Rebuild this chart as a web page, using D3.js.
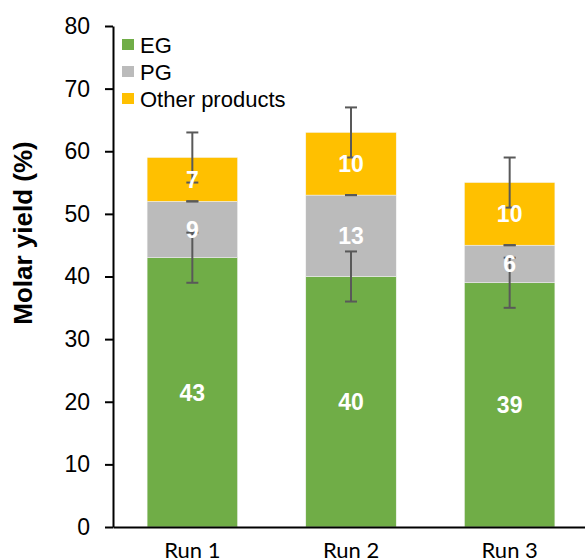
<!DOCTYPE html>
<html>
<head>
<meta charset="utf-8">
<script src="https://cdn.jsdelivr.net/npm/d3@7"></script>
<style>
  body { margin: 0; background: #fff; }
  svg { display: block; }
</style>
</head>
<body>
<div id="chart"></div>
<script>
// data
var runs = ["Run 1", "Run 2", "Run 3"];
var egValues = [43, 40, 39];
var pgValues = [9, 13, 6];
var otherValues = [7, 10, 10];
var egErr = [4, 4, 4];
var pgErr = [0, 0, 0];
var otherErr = [4, 4, 4];
var seriesNames = ["EG", "PG", "Other products"];
var yTicks = [0, 10, 20, 30, 40, 50, 60, 70, 80];

var colors = {"EG": "#70ad47", "PG": "#bbbbbb", "Other products": "#ffc000"};

var W = 585, H = 560;
// note: "top" is taken by window.top, so use plot* names
var plotLeft = 113, plotTop = 26, plotBottom = 527, plotRight = 589;

var svg = d3.select("#chart").append("svg")
    .attr("width", W)
    .attr("height", H);

var x = d3.scaleBand().domain(runs).range([plotLeft, plotRight]).paddingInner(0.43).paddingOuter(0.215);
var y = d3.scaleLinear().domain([0, 80]).range([plotBottom, plotTop]);

// build stacked rows
var rows = runs.map(function(r, i) {
    return {run: r, "EG": egValues[i], "PG": pgValues[i], "Other products": otherValues[i],
            err: {"EG": egErr[i], "PG": pgErr[i], "Other products": otherErr[i]}};
});
var stack = d3.stack().keys(seriesNames)(rows);

// bars
var layers = svg.append("g").selectAll("g")
    .data(stack)
    .join("g")
    .attr("fill", function(d) { return colors[d.key]; });

layers.selectAll("rect")
    .data(function(d) { return d; })
    .join("rect")
    .attr("x", function(d) { return x(d.data.run); })
    .attr("width", x.bandwidth())
    .attr("y", function(d) { return y(d[1]); })
    .attr("height", function(d) { return y(d[0]) - y(d[1]); })
    .attr("stroke", "#f4f4f4")
    .attr("stroke-width", 0.5);

// error bars (centred on the top of each stacked segment)
var capW = 12;
var errG = svg.append("g")
    .attr("stroke", "#595959")
    .attr("stroke-width", 2);

stack.forEach(function(layer) {
    layer.forEach(function(d) {
        var e = d.data.err[layer.key];
        var cx = x(d.data.run) + x.bandwidth() / 2;
        var lo = d[1] - e, hi = d[1] + e;
        if (e > 0) {
            errG.append("line")
                .attr("x1", cx).attr("x2", cx)
                .attr("y1", y(lo)).attr("y2", y(hi));
        }
        [lo, hi].forEach(function(v) {
            errG.append("line")
                .attr("x1", cx - capW / 2).attr("x2", cx + capW / 2)
                .attr("y1", y(v)).attr("y2", y(v));
        });
    });
});

// value labels
stack.forEach(function(layer) {
    svg.append("g").selectAll("text")
        .data(layer)
        .join("text")
        .attr("x", function(d) { return x(d.data.run) + x.bandwidth() / 2; })
        .attr("y", function(d) { return y((d[0] + d[1]) / 2); })
        .attr("dy", "0.36em")
        .attr("text-anchor", "middle")
        .style("font-family", "'Liberation Sans', Arial, sans-serif")
        .style("font-weight", "bold")
        .style("font-size", "23px")
        .attr("fill", "#ffffff")
        .text(function(d) { return d[1] - d[0]; });
});

// y axis
var yAxis = svg.append("g")
    .attr("transform", "translate(" + plotLeft + ",0)")
    .call(d3.axisLeft(y).tickValues(yTicks).tickSize(8).tickPadding(15).tickSizeOuter(0));
yAxis.select(".domain").attr("stroke", "#000").attr("stroke-width", 2);
yAxis.selectAll(".tick line").attr("stroke", "#000").attr("stroke-width", 2);
yAxis.selectAll(".tick text")
    .style("font-family", "'Liberation Sans', Arial, sans-serif")
    .style("font-size", "23px")
    .attr("fill", "#000");

// x axis
var xAxis = svg.append("g")
    .attr("transform", "translate(0," + plotBottom + ")")
    .call(d3.axisBottom(x).tickSize(0).tickSizeOuter(0));
xAxis.select(".domain").attr("stroke", "#000").attr("stroke-width", 2);
xAxis.selectAll(".tick text")
    .attr("y", 31)
    .attr("dy", null)
    .style("font-family", "Lato, 'Open Sans', sans-serif")
    .style("font-size", "22px")
    .attr("fill", "#000");

// y axis title
svg.append("text")
    .attr("transform", "translate(32,233) rotate(-90)")
    .attr("text-anchor", "middle")
    .style("font-family", "'Liberation Sans', Arial, sans-serif")
    .style("font-weight", "bold")
    .style("font-size", "26px")
    .attr("fill", "#000")
    .text("Molar yield (%)");

// legend
var legend = svg.append("g").selectAll("g")
    .data(seriesNames)
    .join("g")
    .attr("transform", function(d, i) { return "translate(122," + (39 + i * 27) + ")"; });
legend.append("rect")
    .attr("width", 12).attr("height", 11)
    .attr("fill", function(d) { return colors[d]; });
legend.append("text")
    .attr("x", 18)
    .attr("y", 6)
    .attr("dy", "0.36em")
    .style("font-family", "'Liberation Sans', Arial, sans-serif")
    .style("font-size", "22px")
    .attr("fill", "#000")
    .text(function(d) { return d; });
</script>
</body>
</html>
